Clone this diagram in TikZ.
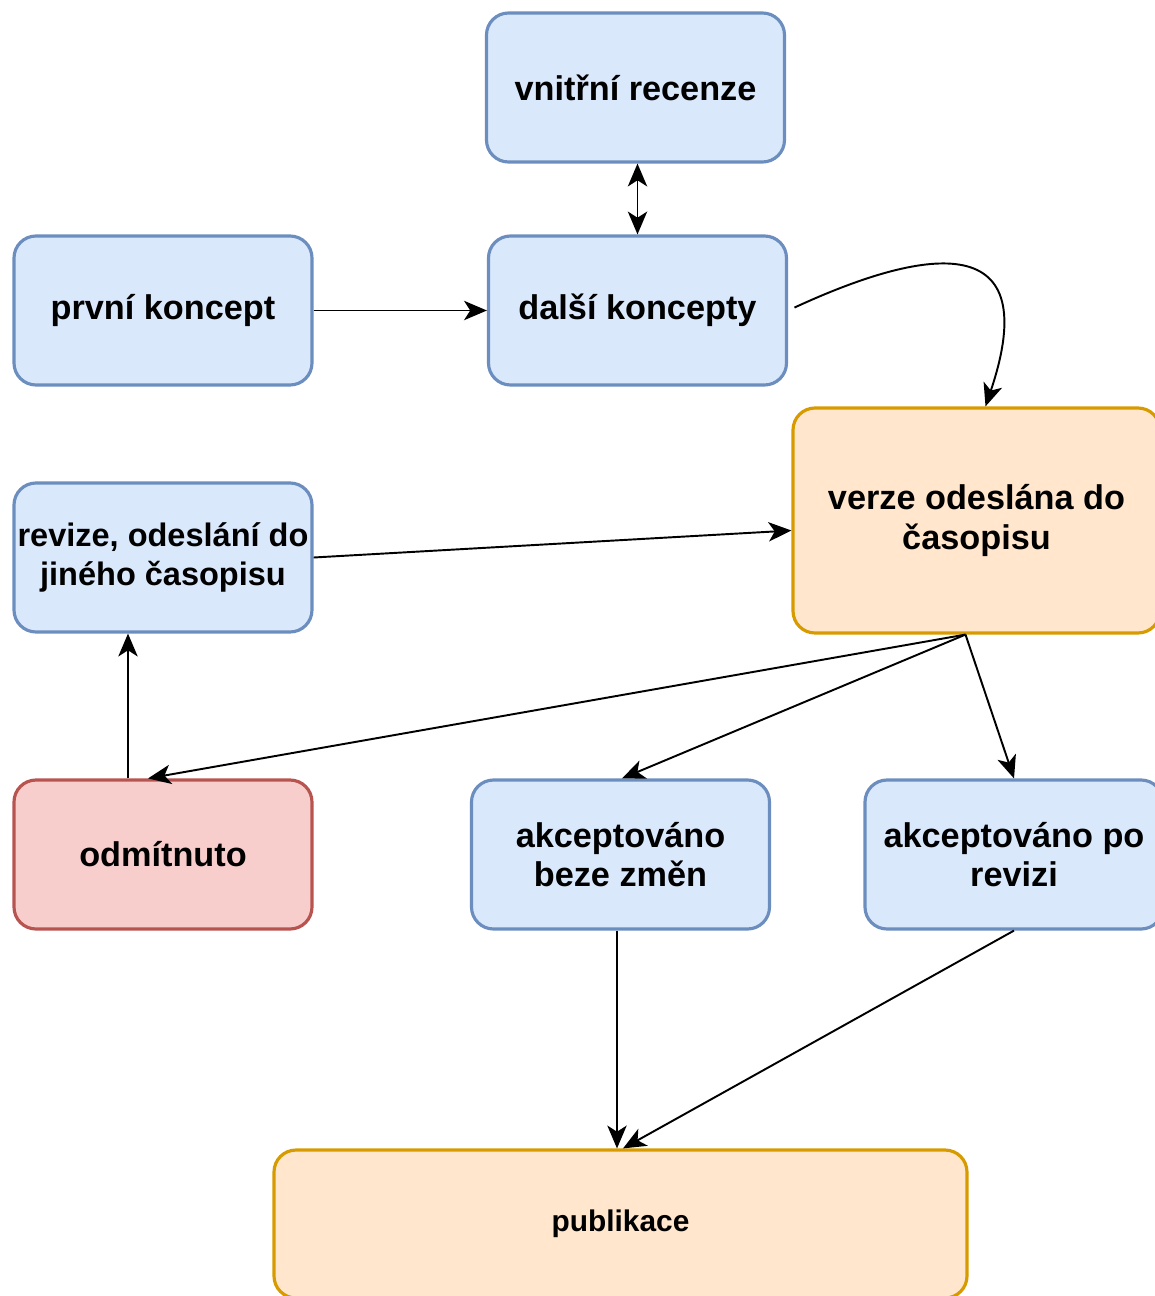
\documentclass[tikz,border=0pt]{standalone}
\usepackage{fontspec}
\setmainfont{Liberation Sans}
\usetikzlibrary{arrows.meta}

\definecolor{bluefill}{HTML}{DAE8FC}
\definecolor{bluedraw}{HTML}{6C8EBF}
\definecolor{orangefill}{HTML}{FFE6CC}
\definecolor{orangedraw}{HTML}{D79B00}
\definecolor{redfill}{HTML}{F8CECC}
\definecolor{reddraw}{HTML}{B85450}

\begin{document}
\begin{tikzpicture}[
	box/.style={draw, rounded corners=0.44cm, line width=1.8pt, align=center, inner sep=0.5pt,
		minimum width=5.96cm, minimum height=2.98cm,
		font=\bfseries\fontsize{19.5}{22.5}\selectfont},
	bluebox/.style={box, fill=bluefill, draw=bluedraw},
	orangebox/.style={box, fill=orangefill, draw=orangedraw},
	redbox/.style={box, fill=redfill, draw=reddraw},
	>={Stealth[length=13pt, width=11pt, inset=3.5pt]},
	every edge/.style={draw, line width=1.1pt}
	]
		\useasboundingbox (0,0) rectangle (23.1,-25.92);

		\draw (12.71,-1.75) node[bluebox] (R) {vnitřní recenze};
		\draw (3.26,-6.21) node[bluebox] (P) {první koncept};
		\draw (12.75,-6.21) node[bluebox] (D) {další koncepty};
		\draw (19.53,-10.41) node[orangebox, minimum width=7.34cm, minimum height=4.5cm] (V) {verze odeslána do\\časopisu};
		\draw (3.26,-11.15) node[bluebox, font=\bfseries\fontsize{18.5}{22.5}\selectfont] (RO) {revize, odeslání do\\jiného časopisu};
		\draw (3.26,-17.09) node[redbox] (O) {odmítnuto};
		\draw (12.41,-17.09) node[bluebox] (AB) {akceptováno\\beze změn};
		\draw (20.28,-17.09) node[bluebox] (AR) {akceptováno po\\revizi};
		\draw (12.41,-24.48) node[orangebox, minimum width=13.86cm, minimum height=2.96cm,
			font=\bfseries\fontsize{17}{20}\selectfont] (PU) {publikace};

		\path[->]
		(D.north |- R.south) edge[<->] (D.north)
		(P.east) edge (D.west)
		(RO.east) edge ([yshift=-0.2cm]V.west)
		([xshift=-0.22cm]V.south) edge ([xshift=-0.3cm]O.north)
		([xshift=-0.22cm]V.south) edge ([xshift=0.03cm]AB.north)
		([xshift=-0.22cm]V.south) edge ([xshift=0.0cm]AR.north)
		([xshift=-0.7cm]O.north) edge ([xshift=-0.7cm]RO.south)
		([xshift=-0.07cm]AB.south) edge ([xshift=-0.07cm]PU.north)
		(AR.south) edge ([xshift=0.05cm]PU.north)
		;
		\draw[->, line width=1.1pt, shorten <=4pt] (D.east) .. controls (18.6,-4.9) and (20.9,-4.6) .. ([xshift=0.18cm]V.north);
	\end{tikzpicture}
\end{document}
